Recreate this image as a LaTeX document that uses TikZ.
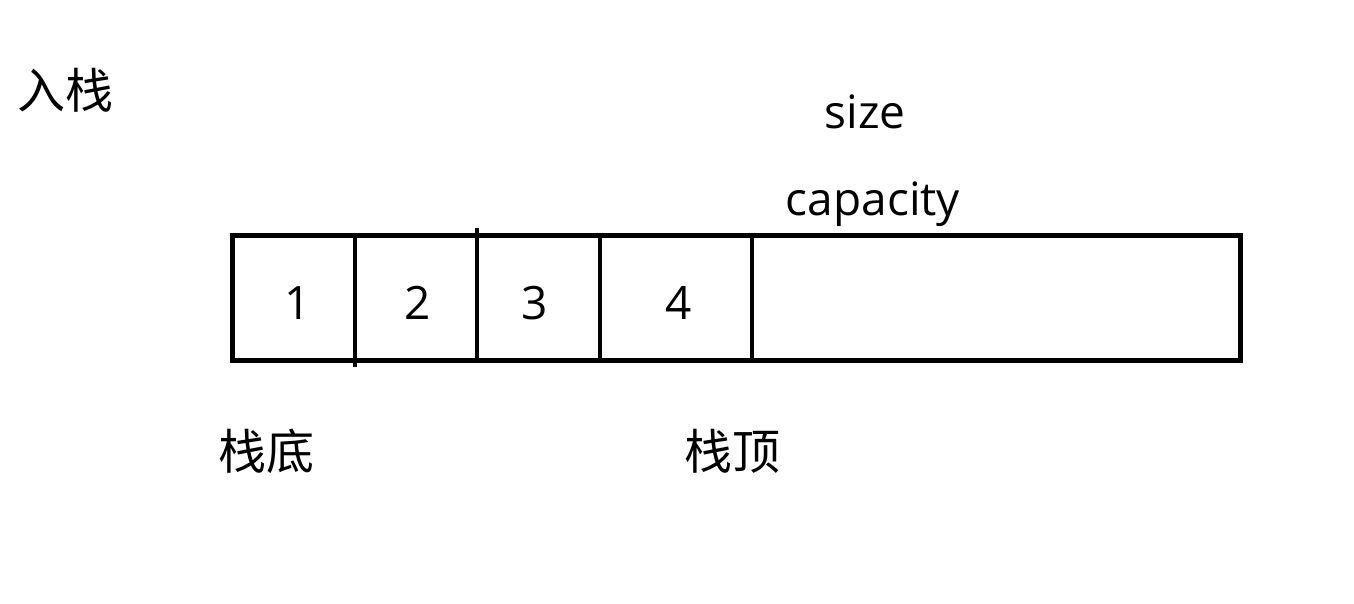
\documentclass[tikz,border=0pt]{standalone}
\usepackage{fontspec}
\setmainfont{Open Sans}
\newfontfamily\cjk{Noto Sans CJK SC}
\usetikzlibrary{positioning}

\begin{document}
\begin{tikzpicture}[x=1pt,y=-1pt,
  lbl/.style={anchor=base,inner sep=0pt,font=\fontsize{46}{52}\selectfont},
  hanzi/.style={anchor=base,inner sep=0pt,font=\cjk\fontsize{48}{54}\selectfont}]
\useasboundingbox (0,0) rectangle (1354,604);
%% stack array
\draw[line width=5pt](232,235)rectangle(1240,360);
\draw[line width=4.2pt](355,235)--(355,367)
(477,228)--(477,360)
(600,235)--(600,360)
(752,235)--(752,360);
%% elements
\node[lbl] (e1) at (298,319) {1};
\node[lbl] (e2) at (418,319) {2};
\node[lbl] (e3) at (535,319) {3};
\node[lbl] (e4) at (679,319) {4};
%% labels
\node[hanzi] (push) at (65,109) {入栈};
\node[lbl] (size) at (865,129) {size};
\node[lbl] (cap) at (873,215) {capacity};
\node[hanzi] (bottom) at (266,469) {栈底};
\node[hanzi] (top) at (732,469) {栈顶};
\end{tikzpicture}
\end{document}
